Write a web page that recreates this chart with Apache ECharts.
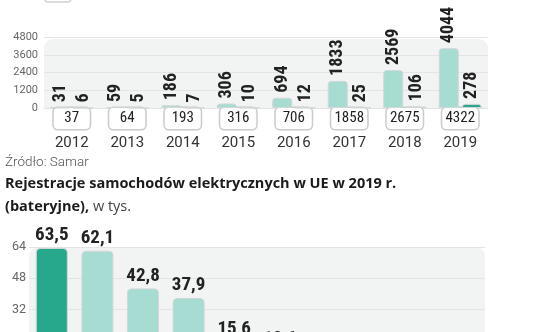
<!DOCTYPE html>
<html>
<head>
<meta charset="utf-8">
<script src="https://cdn.jsdelivr.net/npm/echarts@6/dist/echarts.min.js"></script>
<style>html,body{margin:0;padding:0;background:#fff}#c{width:536px;height:332px}</style>
</head>
<body>
<div id="c"></div>
<script>
// Top chart data
const years = ['2012','2013','2014','2015','2016','2017','2018','2019'];
const bevValues = [31, 59, 186, 306, 694, 1833, 2569, 4044];
const phevValues = [6, 5, 7, 10, 12, 25, 106, 278];
const totals = [37, 64, 193, 316, 706, 1858, 2675, 4322];
const topTicks = [0, 1200, 2400, 3600, 4800];

// Bottom chart data (only first five visible)
const countries = ['Niemcy','Holandia','Francja','Wielka Brytania','Szwecja','Włochy','Hiszpania','Belgia','Austria','Dania'];
const euValues = [63.5, 62.1, 42.8, 37.9, 15.6, 10.6, 10.0, 9.3, 9.2, 8.9];
const bottomTicks = [0, 16, 32, 48, 64];

const NARROW = '"Liberation Sans Narrow", "Roboto Condensed", Roboto, sans-serif';
const TITLE_FONT = '"Open Sans", sans-serif';
const TITLE_SIZE = '14.5px ';
const LIGHT = '#a6dcd1';
const DARK = '#27a78c';

// measure width of the bold part of the second title line
const mctx = document.createElement('canvas').getContext('2d');
mctx.font = 'bold ' + TITLE_SIZE + TITLE_FONT;
const partWidth = mctx.measureText('(bateryjne),').width;

const chart = echarts.init(document.getElementById('c'), null, {renderer: 'canvas'});

const topGrid = {left: 44, right: 48, top: 37, height: 71, outerBoundsMode: 'none', containLabel: false};
const botGrid = {left: 29, right: 51, top: 247, height: 125, outerBoundsMode: 'none', containLabel: false};

chart.setOption({
  animation: false,
  graphic: [
    {type: 'rect', silent: true, z: -10,
     shape: {x: 45, y: -12, width: 26, height: 14, r: 3},
     style: {fill: '#fff', stroke: '#cfd2d2', lineWidth: 1.5}},
    {type: 'rect', silent: true, z: -10,
     shape: {x: topGrid.left, y: 39, width: 536 - topGrid.left - topGrid.right, height: topGrid.top + topGrid.height - 39, r: [9, 9, 0, 0]},
     style: {fill: '#f2f3f3'}},
    {type: 'rect', silent: true, z: -10,
     shape: {x: botGrid.left, y: botGrid.top, width: 536 - botGrid.left - botGrid.right, height: 100, r: [9, 9, 0, 0]},
     style: {fill: '#f2f3f3'}},
    {type: 'text', x: 5, y: 163, silent: true,
     style: {text: 'Źródło: Samar', font: '300 13.5px Roboto, sans-serif', fill: '#555', verticalAlign: 'middle'}},
    {type: 'text', x: 5, y: 184, silent: true,
     style: {text: 'Rejestracje samochodów elektrycznych w UE w 2019 r.', font: 'bold ' + TITLE_SIZE + TITLE_FONT, fill: '#1b1b1b', verticalAlign: 'middle'}},
    {type: 'text', x: 5, y: 207, silent: true,
     style: {text: '(bateryjne),', font: 'bold ' + TITLE_SIZE + TITLE_FONT, fill: '#1b1b1b', verticalAlign: 'middle'}},
    {type: 'text', x: 5 + partWidth, y: 207, silent: true,
     style: {text: ' w tys.', font: 'normal ' + TITLE_SIZE + TITLE_FONT, fill: '#444', verticalAlign: 'middle'}}
  ],
  grid: [topGrid, botGrid],
  xAxis: [
    {
      type: 'category', gridIndex: 0, data: years,
      axisLine: {show: false}, axisTick: {show: false},
      axisLabel: {
        margin: 2, interval: 0,
        formatter: (v, i) => '{box|' + totals[i] + '}\n{yr|' + v + '}',
        rich: {
          box: {fontFamily: NARROW, fontSize: 15, color: '#222', width: 30, align: 'center',
                backgroundColor: '#fff', borderColor: '#c9cccc', borderWidth: 1.5, borderRadius: 4,
                padding: [3, 3, 3, 3], lineHeight: 17},
          yr: {fontFamily: 'Roboto, sans-serif', fontSize: 15, color: '#333', lineHeight: 32}
        }
      }
    },
    {
      type: 'category', gridIndex: 1, data: countries,
      axisLine: {show: false}, axisTick: {show: false}, axisLabel: {show: false}
    }
  ],
  yAxis: [
    {
      type: 'value', gridIndex: 0, min: topTicks[0], max: topTicks[topTicks.length - 1], interval: 1200,
      axisLine: {show: false}, axisTick: {show: false},
      axisLabel: {fontFamily: 'Roboto, sans-serif', fontSize: 11, color: '#666', margin: 6, formatter: v => String(v)},
      splitLine: {lineStyle: {color: '#e3e5e5', width: 1}}
    },
    {
      type: 'value', gridIndex: 1, min: bottomTicks[0], max: bottomTicks[bottomTicks.length - 1], interval: 16,
      axisLine: {show: false}, axisTick: {show: false},
      axisLabel: {fontFamily: 'Roboto, sans-serif', fontSize: 12.5, color: '#666', margin: 3, formatter: v => String(v)},
      splitLine: {lineStyle: {color: '#e3e5e5', width: 1}}
    }
  ],
  series: [
    {
      type: 'bar', xAxisIndex: 0, yAxisIndex: 0, data: bevValues,
      barWidth: 20, barGap: '15%',
      itemStyle: {color: LIGHT, borderColor: '#d3d7d7', borderWidth: 1, borderRadius: [3, 3, 0, 0]},
      label: {show: true, position: 'top', rotate: 90, align: 'left', verticalAlign: 'middle', distance: 5,
              fontFamily: NARROW, fontWeight: 'bold', fontSize: 18, color: '#222'}
    },
    {
      type: 'bar', xAxisIndex: 0, yAxisIndex: 0, data: phevValues,
      barWidth: 20, barGap: '15%',
      itemStyle: {color: DARK, borderColor: '#d3d7d7', borderWidth: 1, borderRadius: [3, 3, 0, 0]},
      label: {show: true, position: 'top', rotate: 90, align: 'left', verticalAlign: 'middle', distance: 5,
              fontFamily: NARROW, fontWeight: 'bold', fontSize: 18, color: '#222'}
    },
    {
      type: 'bar', xAxisIndex: 1, yAxisIndex: 1,
      data: euValues.map((v, i) => ({value: v, itemStyle: {color: i === 0 ? DARK : LIGHT}})),
      barWidth: 32,
      itemStyle: {borderColor: '#d3d7d7', borderWidth: 1, borderRadius: [4, 4, 0, 0]},
      label: {show: true, position: 'top', distance: 3,
              formatter: p => p.value.toFixed(1).replace('.', ','),
              fontFamily: NARROW, fontWeight: 'bold', fontSize: 19, color: '#222'}
    }
  ]
});
</script>
</body>
</html>
